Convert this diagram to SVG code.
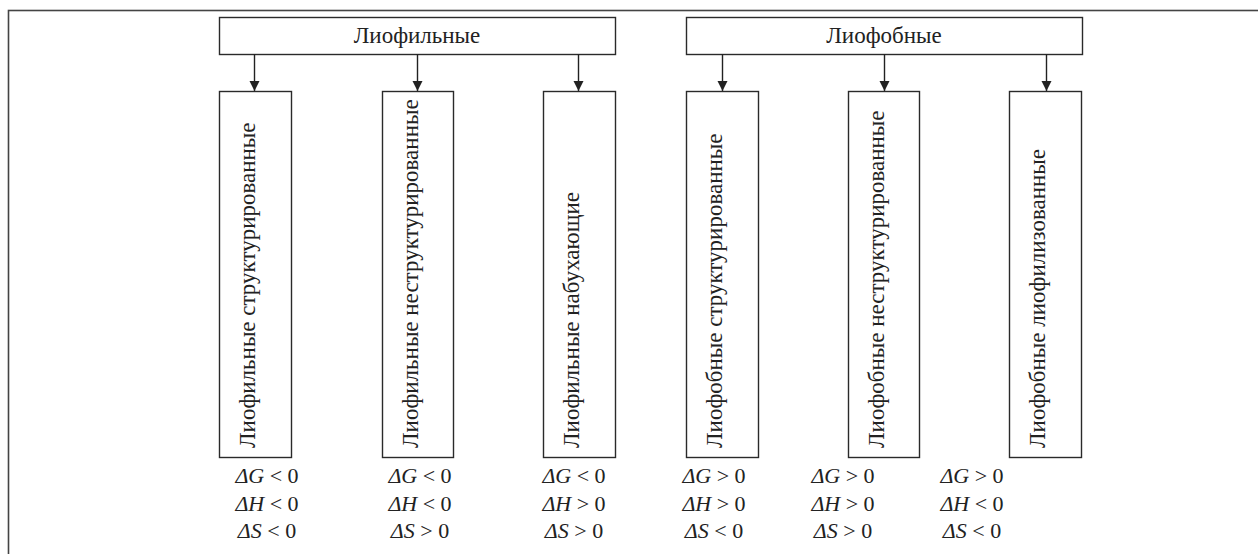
<svg xmlns="http://www.w3.org/2000/svg" width="1258" height="554" viewBox="0 0 1258 554">
<style>
.frame{fill:none;stroke:#444;stroke-width:1.6}
.box{fill:#fff;stroke:#2a2a2a;stroke-width:1.4}
.t{font-family:"Liberation Serif","Times New Roman",serif;font-size:22px;fill:#222}
.cy{font-family:"Liberation Serif","Times New Roman",serif;font-size:23px;fill:#222}
.c{text-anchor:middle}
.i{font-style:italic}
.conn line{stroke:#222;stroke-width:1.4}
</style>
<defs>
<marker id="ah" markerWidth="10" markerHeight="12" refX="10" refY="5" orient="auto" markerUnits="userSpaceOnUse" viewBox="0 0 10 10">
<path d="M0,0 L10,5 L0,10 Z" fill="#222"/>
</marker>
</defs>
<rect width="1258" height="554" fill="#fff"/>
<rect class="frame" x="8.5" y="10.5" width="1270" height="570"/>

<g id="liofilnye">
<rect class="box" x="219.5" y="17.5" width="396" height="37"/>
<text class="cy c" x="417" y="43">Лиофильные</text>
</g>
<g id="liofobnye">
<rect class="box" x="686.5" y="17.5" width="396" height="37"/>
<text class="cy c" x="884" y="43">Лиофобные</text>
</g>

<g id="n1">
<rect class="box" x="219.5" y="91.5" width="72" height="366"/>
<text class="cy" transform="translate(255,448) rotate(-90)">Лиофильные  структурированные</text>
</g>
<g id="n2">
<rect class="box" x="382.5" y="91.5" width="71" height="366"/>
<text class="cy" transform="translate(418,448) rotate(-90)">Лиофильные неструктурированные</text>
</g>
<g id="n3">
<rect class="box" x="543.5" y="91.5" width="72" height="366"/>
<text class="cy" transform="translate(579,448) rotate(-90)">Лиофильные набухающие</text>
</g>
<g id="n4">
<rect class="box" x="686.5" y="91.5" width="72" height="366"/>
<text class="cy" transform="translate(722,448) rotate(-90)">Лиофобные структурированные</text>
</g>
<g id="n5">
<rect class="box" x="848.5" y="91.5" width="71" height="366"/>
<text class="cy" transform="translate(884,448) rotate(-90)">Лиофобные неструктурированные</text>
</g>
<g id="n6">
<rect class="box" x="1009.5" y="91.5" width="72" height="366"/>
<text class="cy" transform="translate(1045,448) rotate(-90)">Лиофобные лиофилизованные</text>
</g>

<g id="connectors" class="conn">
<line x1="254.5" y1="54" x2="254.5" y2="91" marker-end="url(#ah)"/>
<line x1="417.5" y1="54" x2="417.5" y2="91" marker-end="url(#ah)"/>
<line x1="578.5" y1="54" x2="578.5" y2="91" marker-end="url(#ah)"/>
<line x1="722.5" y1="54" x2="722.5" y2="91" marker-end="url(#ah)"/>
<line x1="884.5" y1="54" x2="884.5" y2="91" marker-end="url(#ah)"/>
<line x1="1046.5" y1="54" x2="1046.5" y2="91" marker-end="url(#ah)"/>
</g>

<g id="labels">
<text class="t c" x="267" y="483"><tspan class="i">ΔG</tspan> &lt; 0</text>
<text class="t c" x="267" y="511"><tspan class="i">ΔH</tspan> &lt; 0</text>
<text class="t c" x="267" y="538"><tspan class="i">ΔS</tspan> &lt; 0</text>

<text class="t c" x="420" y="483"><tspan class="i">ΔG</tspan> &lt; 0</text>
<text class="t c" x="420" y="511"><tspan class="i">ΔH</tspan> &lt; 0</text>
<text class="t c" x="420" y="538"><tspan class="i">ΔS</tspan> &gt; 0</text>

<text class="t c" x="574" y="483"><tspan class="i">ΔG</tspan> &lt; 0</text>
<text class="t c" x="574" y="511"><tspan class="i">ΔH</tspan> &gt; 0</text>
<text class="t c" x="574" y="538"><tspan class="i">ΔS</tspan> &gt; 0</text>

<text class="t c" x="714" y="483"><tspan class="i">ΔG</tspan> &gt; 0</text>
<text class="t c" x="714" y="511"><tspan class="i">ΔH</tspan> &gt; 0</text>
<text class="t c" x="714" y="538"><tspan class="i">ΔS</tspan> &lt; 0</text>

<text class="t c" x="843" y="483"><tspan class="i">ΔG</tspan> &gt; 0</text>
<text class="t c" x="843" y="511"><tspan class="i">ΔH</tspan> &gt; 0</text>
<text class="t c" x="843" y="538"><tspan class="i">ΔS</tspan> &gt; 0</text>

<text class="t c" x="972" y="483"><tspan class="i">ΔG</tspan> &gt; 0</text>
<text class="t c" x="972" y="511"><tspan class="i">ΔH</tspan> &lt; 0</text>
<text class="t c" x="972" y="538"><tspan class="i">ΔS</tspan> &lt; 0</text>
</g>
</svg>
